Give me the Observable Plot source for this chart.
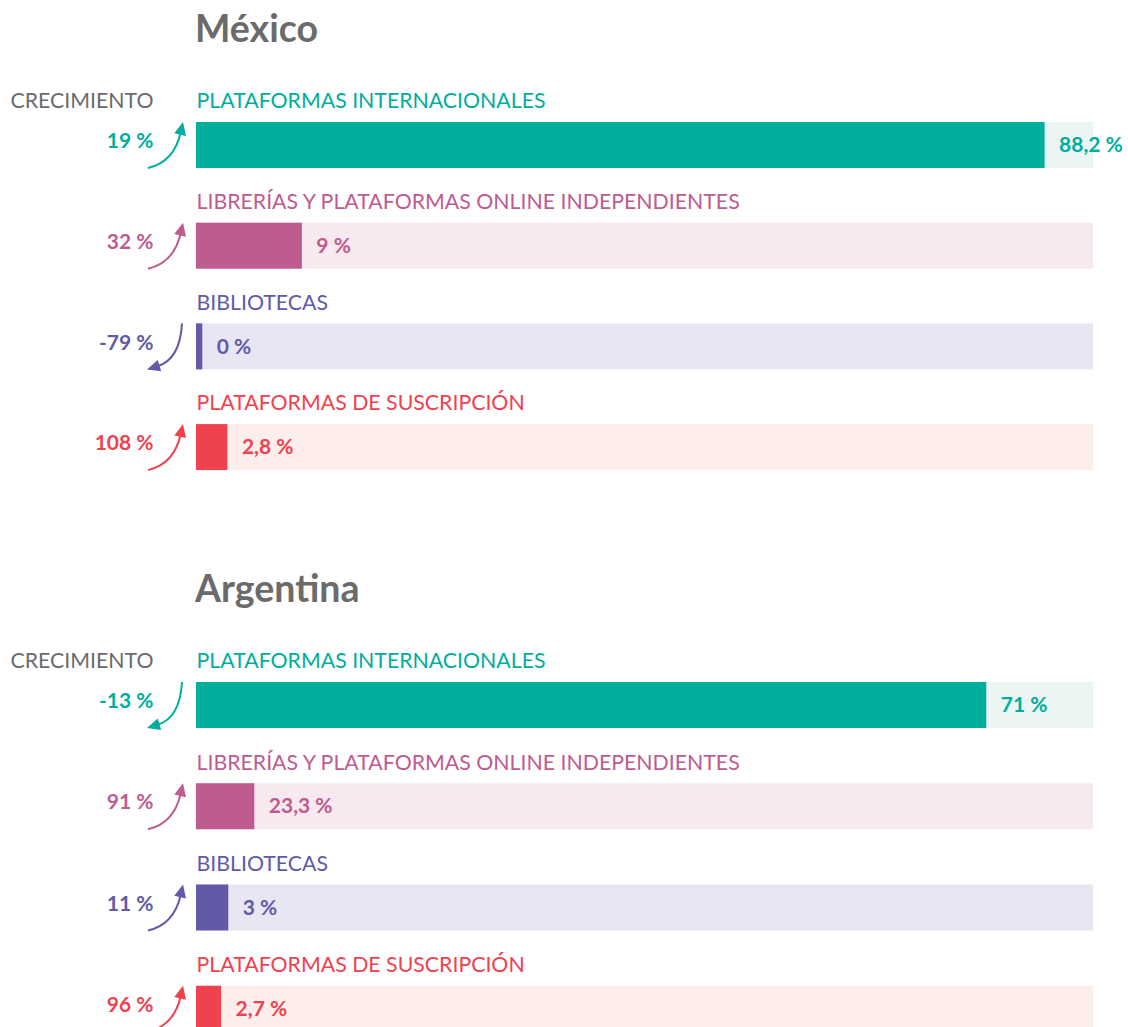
<!DOCTYPE html>
<html><head><meta charset="utf-8">
<script src="https://cdn.jsdelivr.net/npm/d3@7"></script>
<script src="https://cdn.jsdelivr.net/npm/@observablehq/plot@0.6"></script>
<style>
html,body{margin:0;padding:0;background:#fff;}
body{width:1128px;height:1027px;overflow:hidden;font-family:Lato,sans-serif;}
h2{margin:0;font:700 37.5px Lato,sans-serif;color:#6b6b6b;padding:10px 0 0 195px;height:80px;box-sizing:border-box;line-height:36px;}
svg{display:block;}
</style></head><body><div id="c"></div><script>
// ---- data ----
const categories = ["PLATAFORMAS INTERNACIONALES","LIBRERÍAS Y PLATAFORMAS ONLINE INDEPENDIENTES","BIBLIOTECAS","PLATAFORMAS DE SUSCRIPCIÓN"];
const barColors = ["#00ae9d","#be5b8f","#625aa8","#f0414f"];
const trackColors = ["#ebf5f4","#f7e9ef","#e9e6f4","#fdeeec"];
// bar lengths as drawn (share of the full track = 100)
const mexicoBar = [94.6, 11.8, 0.7, 3.5];
const mexicoShare = ["88,2 %","9 %","0 %","2,8 %"];
const mexicoGrowth = [19, 32, -79, 108];
const argentinaBar = [88.1, 6.5, 3.6, 2.8];
const argentinaShare = ["71 %","23,3 %","3 %","2,7 %"];
const argentinaGrowth = [-13, 91, 11, 96];
const countries = ["México","Argentina"];

const INSET_TOP = 42, BAR_H = 46;

function arrows(rows) {
  return (index, scales) => {
    const g = d3.create("svg:g");
    const x0 = scales.x(0);
    rows.forEach(r => {
      const yt = scales.y(r.cat) + INSET_TOP, yb = yt + BAR_H;
      let S, C, E;
      if (r.growth >= 0) { S = [x0-48, yb]; C = [x0-22, yb-6]; E = [x0-13, yt]; }
      else { S = [x0-14, yt]; C = [x0-16, yb-10]; E = [x0-49, yb]; }
      let dx = E[0]-C[0], dy = E[1]-C[1]; const L = Math.hypot(dx, dy); dx/=L; dy/=L;
      const hl = 13, hw = 6;
      const B = [E[0]-dx*hl, E[1]-dy*hl];
      const Bl = [E[0]-dx*(hl-2), E[1]-dy*(hl-2)];
      g.append("path").attr("d", `M${S}Q${C} ${Bl}`).attr("fill","none").attr("stroke", r.color).attr("stroke-width", 2);
      g.append("path").attr("d", `M${E}L${B[0]-dy*hw},${B[1]+dx*hw}L${B[0]+dy*hw},${B[1]-dx*hw}Z`).attr("fill", r.color);
    });
    return g.node();
  };
}

function chart(bars, shares, growth, height, marginBottom) {
  const rows = categories.map((c,i) => ({cat:c, bar:bars[i], share:shares[i], growth:growth[i], color:barColors[i], track:trackColors[i]}));
  const band = (height - marginBottom) / categories.length;
  const mid = band / 2;
  const labelDy = 21 - mid, barDy = INSET_TOP + BAR_H/2 - mid;
  return Plot.plot({
    width: 1128, height, marginLeft: 196, marginRight: 35, marginTop: 0, marginBottom,
    x: {domain: [0, 100], axis: null},
    y: {domain: categories, axis: null, padding: 0, round: false},
    color: {type: "identity"},
    style: {fontFamily: "Lato, sans-serif", background: "#fff"},
    marks: [
      Plot.barX(rows, {x1: 0, x2: 100, y: "cat", fill: "track", insetTop: INSET_TOP, insetBottom: band - INSET_TOP - BAR_H}),
      Plot.barX(rows, {x1: 0, x2: "bar", y: "cat", fill: "color", insetTop: INSET_TOP, insetBottom: band - INSET_TOP - BAR_H}),
      Plot.text(rows, {x: 0, y: "cat", text: "cat", fill: "color", textAnchor: "start", dy: labelDy, fontSize: 21.3}),
      Plot.text(rows, {x: "bar", y: "cat", text: "share", fill: "color", textAnchor: "start", dx: 14, dy: barDy, fontSize: 21, fontWeight: 700}),
      Plot.text(rows, {x: 0, y: "cat", text: d => `${d.growth} %`, fill: "color", textAnchor: "end", dx: -43, dy: barDy - 4, fontSize: 21, fontWeight: 700}),
      Plot.text([categories[0]], {x: 0, y: d => d, text: () => "CRECIMIENTO", fill: "#6b6b6b", textAnchor: "end", dx: -43, dy: labelDy, fontSize: 21.3}),
      arrows(rows)
    ]
  });
}

const root = document.getElementById("c");
const data = [[mexicoBar, mexicoShare, mexicoGrowth, 480, 77.2],[argentinaBar, argentinaShare, argentinaGrowth, 405, 0]];
countries.forEach((name, k) => {
  const h = document.createElement("h2"); h.textContent = name; root.appendChild(h);
  root.appendChild(chart(...data[k]));
});
</script></body></html>
